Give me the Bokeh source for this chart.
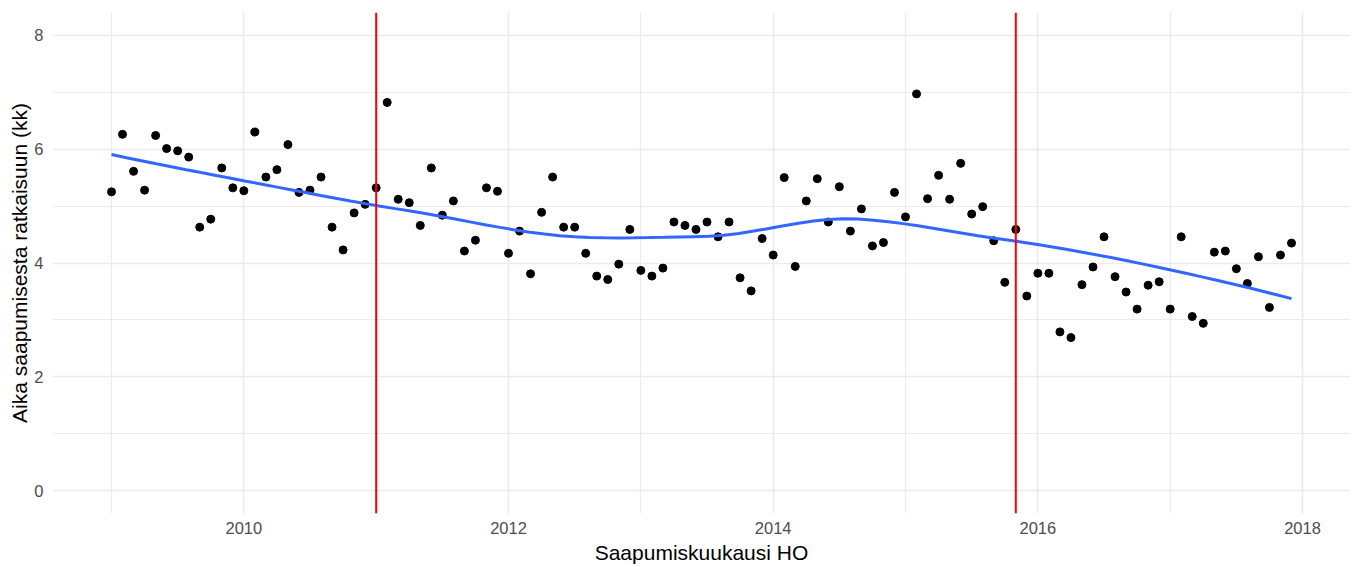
import numpy as np
import pandas as pd
from bokeh.plotting import figure
from bokeh.models import Range1d, FixedTicker, Span, ColumnDataSource
from bokeh.embed import file_html
from bokeh.resources import INLINE

# ---- data -------------------------------------------------------------
start_month = "2009-01-01"
n_months = 108
values = [
    5.25, 6.26, 5.61, 5.28, 6.24, 6.01, 5.97, 5.86, 4.63, 4.77, 5.67, 5.32,
    5.27, 6.30, 5.51, 5.64, 6.08, 5.24, 5.28, 5.51, 4.63, 4.23, 4.88, 5.03,
    5.32, 6.82, 5.12, 5.06, 4.66, 5.67, 4.84, 5.09, 4.21, 4.40, 5.32, 5.26,
    4.17, 4.56, 3.81, 4.89, 5.51, 4.63, 4.63, 4.17, 3.77, 3.71, 3.98, 4.59,
    3.87, 3.77, 3.91, 4.72, 4.66, 4.59, 4.72, 4.46, 4.72, 3.74, 3.51, 4.43,
    4.14, 5.50, 3.94, 5.09, 5.48, 4.72, 5.34, 4.56, 4.95, 4.30, 4.36, 5.24,
    4.81, 6.97, 5.13, 5.54, 5.12, 5.75, 4.86, 4.99, 4.39, 3.66, 4.59, 3.42,
    3.82, 3.82, 2.79, 2.69, 3.62, 3.93, 4.46, 3.76, 3.49, 3.19, 3.61, 3.67,
    3.19, 4.46, 3.06, 2.94, 4.19, 4.21, 3.90, 3.64, 4.11, 3.22, 4.14, 4.35,
]
event_lines = ["2011-01-01", "2015-11-01"]
x_ticks = [2010, 2012, 2014, 2016, 2018]
x_minor = [2009, 2011, 2013, 2015, 2017]
y_ticks = [0, 2, 4, 6, 8]
y_minor = [1, 3, 5, 7]
x_title = "Saapumiskuukausi HO"
y_title = "Aika saapumisesta ratkaisuun (kk)"


def dec_year(d):
    d = pd.Timestamp(d)
    return d.year + (d.month - 1) / 12.0


months = pd.date_range(start_month, periods=n_months, freq="MS")
x = np.array([dec_year(m) for m in months])
y = np.array(values)


# ---- loess smoother (span 0.75, degree 2, kd-tree interpolation as in R) ----
def local_fit(xs, ys, x0, span=0.75):
    n = len(xs)
    q = int(np.floor(span * n))
    d = np.abs(xs - x0)
    h = np.sort(d)[q - 1]
    w = np.clip(1 - (d / h) ** 3, 0, None) ** 3
    X = np.vstack([np.ones(n), xs - x0, (xs - x0) ** 2]).T
    W = np.sqrt(w)
    beta, *_ = np.linalg.lstsq(X * W[:, None], ys * W, rcond=None)
    return beta[0], beta[1]


def kd_vertices(xs, span=0.75, cell=0.2):
    xs = np.sort(xs)
    n = len(xs)
    fc = int(np.floor(n * span * cell))
    splits = []

    def build(lo, hi):  # inclusive 0-based
        if hi - lo + 1 <= fc:
            return
        m = (lo + hi + 2) // 2 - 1
        splits.append((xs[m] + xs[m + 1]) / 2)
        build(lo, m)
        build(m + 1, hi)

    build(0, n - 1)
    mu = 0.005 * (xs[-1] - xs[0])
    return np.array(sorted([xs[0] - mu, xs[-1] + mu] + splits))


def loess_interp(xs, ys, xgrid):
    verts = kd_vertices(xs)
    fits = np.array([local_fit(xs, ys, v) for v in verts])
    out = []
    for x0 in xgrid:
        i = min(np.searchsorted(verts, x0, side="right") - 1, len(verts) - 2)
        x1, x2 = verts[i], verts[i + 1]
        hh = x2 - x1
        t = (x0 - x1) / hh
        y1, d1 = fits[i]
        y2, d2 = fits[i + 1]
        h00 = 2 * t**3 - 3 * t**2 + 1
        h10 = t**3 - 2 * t**2 + t
        h01 = -2 * t**3 + 3 * t**2
        h11 = t**3 - t**2
        out.append(h00 * y1 + h10 * hh * d1 + h01 * y2 + h11 * hh * d2)
    return np.array(out)


xg = np.linspace(x.min(), x.max(), 80)
yg = loess_interp(x, y, xg)

# ---- figure -----------------------------------------------------------
xr = x.max() - x.min()
p = figure(
    width=1350, height=566,
    x_range=Range1d(x.min() - 0.05 * xr, x.max() + 0.05 * xr),
    y_range=Range1d(-0.4, 8.4),
    output_backend="svg", toolbar_location=None,
    min_border_left=52, min_border_right=0, min_border_top=12, min_border_bottom=30,
)
p.outline_line_color = None
p.background_fill_color = "white"
p.border_fill_color = "white"

p.xaxis.ticker = FixedTicker(ticks=x_ticks, minor_ticks=x_minor)
p.yaxis.ticker = FixedTicker(ticks=y_ticks, minor_ticks=y_minor)

for g in (p.xgrid, p.ygrid):
    g.grid_line_color = "#EBEBEB"
    g.grid_line_width = 1.6
    g.minor_grid_line_color = "#EBEBEB"
    g.minor_grid_line_width = 1.2

for ax in (p.xaxis, p.yaxis):
    ax.axis_line_color = None
    ax.major_tick_line_color = None
    ax.minor_tick_line_color = None
    ax.major_tick_out = 0
    ax.minor_tick_out = 0
    ax.major_label_text_font = "Liberation Sans"
    ax.major_label_text_font_size = "16.5px"
    ax.major_label_text_color = "#4D4D4D"
    ax.axis_label_text_font = "Liberation Sans"
    ax.axis_label_text_font_size = "21px"
    ax.axis_label_text_font_style = "normal"
    ax.axis_label_text_color = "black"

p.xaxis.axis_label = x_title
p.yaxis.axis_label = y_title
p.xaxis.major_label_standoff = 8
p.yaxis.major_label_standoff = 9
p.xaxis.axis_label_standoff = 4
p.yaxis.axis_label_standoff = 0

src = ColumnDataSource(dict(x=x, y=y))
p.scatter("x", "y", source=src, size=8, color="black")
p.line(xg, yg, line_color="#3366FF", line_width=3)

for ev in event_lines:
    p.add_layout(Span(location=dec_year(ev), dimension="height",
                      line_color="#FF0000", line_width=2))

open("out.html", "w").write(file_html(p, INLINE))
